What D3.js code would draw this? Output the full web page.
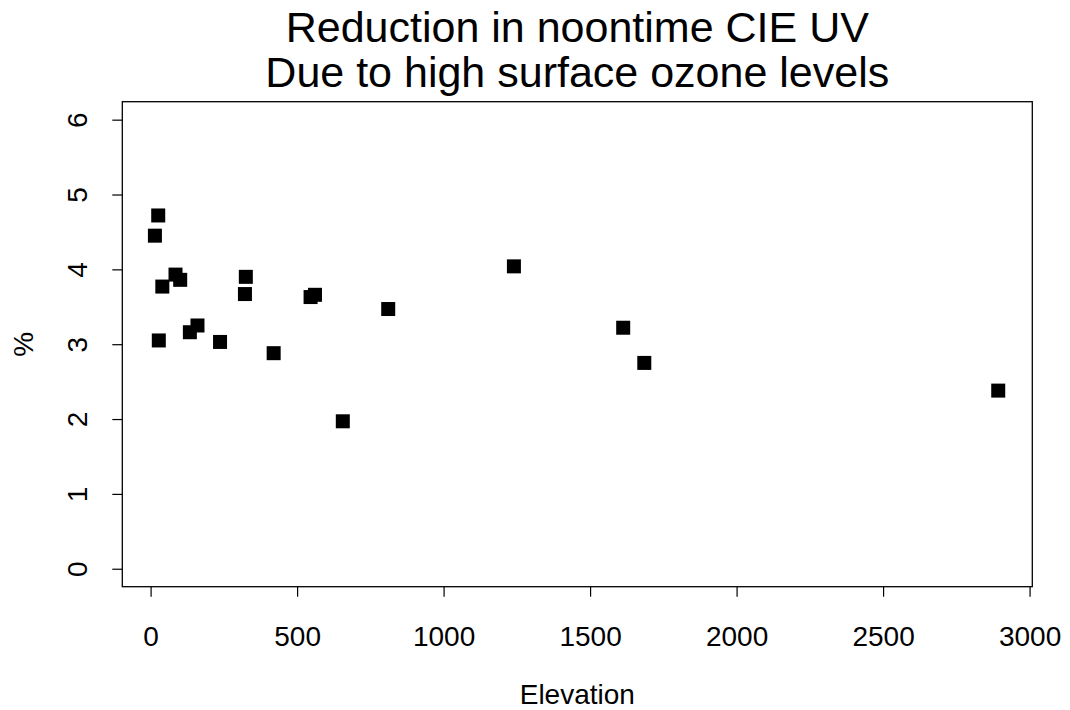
<!DOCTYPE html>
<html>
<head>
<meta charset="utf-8">
<script src="https://cdn.jsdelivr.net/npm/d3@7/dist/d3.min.js"></script>
<style>
  html, body { margin: 0; padding: 0; background: #fff; }
  svg { display: block; font-family: "Liberation Sans", Arial, Helvetica, sans-serif; }
</style>
</head>
<body>
<svg id="chart" width="1070" height="710"></svg>
<script>
// ---- Data ----
const titleLines = ["Reduction in noontime CIE UV", "Due to high surface ozone levels"];
const xLabel = "Elevation";
const yLabel = "%";
const elevation = [14.7, 26, 28, 40, 85, 101, 134, 160, 237, 322, 325, 420, 546, 561, 656, 811, 1240, 1613, 1685, 2893];
const reduction = [4.45, 4.72, 3.05, 3.77, 3.93, 3.86, 3.16, 3.25, 3.03, 3.67, 3.90, 2.88, 3.63, 3.66, 1.97, 3.47, 4.04, 3.22, 2.75, 2.38];
const xTicks = [0, 500, 1000, 1500, 2000, 2500, 3000];
const yTicks = [0, 1, 2, 3, 4, 5, 6];

// ---- Layout ----
const box = { left: 122.3, right: 1032.3, top: 101.7, bottom: 586.7 };
const svg = d3.select("#chart");

const x = d3.scaleLinear().domain([-96.6, 3009.3]).range([box.left, box.right]);
const y = d3.scaleLinear().domain([-0.24, 6.24]).range([box.bottom, box.top]);

const ink = "#000";
const fontSize = 28;

// X axis
const xAxis = d3.axisBottom(x).tickValues(xTicks).tickSize(10).tickPadding(0).tickFormat(d3.format("d"));
const gx = svg.append("g").attr("transform", `translate(0,${box.bottom})`).call(xAxis);
gx.select(".domain").remove();
gx.selectAll(".tick line").attr("stroke", ink).attr("stroke-width", 1.2);
gx.selectAll(".tick text")
  .attr("fill", ink)
  .attr("font-size", fontSize)
  .attr("y", 59)
  .attr("dy", 0)
  .attr("font-family", "Liberation Sans, Arial, sans-serif");

// Y axis
const yAxis = d3.axisLeft(y).tickValues(yTicks).tickSize(10).tickFormat(d3.format("d"));
const gy = svg.append("g").attr("transform", `translate(${box.left},0)`).call(yAxis);
gy.select(".domain").remove();
gy.selectAll(".tick line").attr("stroke", ink).attr("stroke-width", 1.2);
gy.selectAll(".tick text").remove();
gy.selectAll(".tick").append("text")
  .attr("transform", "translate(-35,0) rotate(-90)")
  .attr("text-anchor", "middle")
  .attr("fill", ink)
  .attr("font-size", fontSize)
  .attr("font-family", "Liberation Sans, Arial, sans-serif")
  .text(d => d3.format("d")(d));

// Plot box
svg.append("rect")
  .attr("x", box.left).attr("y", box.top)
  .attr("width", box.right - box.left).attr("height", box.bottom - box.top)
  .attr("fill", "none").attr("stroke", ink).attr("stroke-width", 1.3);

// Points (filled squares)
const sq = 14;
svg.append("g").selectAll("rect")
  .data(elevation.map((e, i) => ({ e, r: reduction[i] })))
  .join("rect")
  .attr("x", d => x(d.e) - sq / 2)
  .attr("y", d => y(d.r) - sq / 2)
  .attr("width", sq).attr("height", sq)
  .attr("fill", ink);

// Title
const cx = (box.left + box.right) / 2;
svg.append("text")
  .attr("x", cx).attr("y", 41.7)
  .attr("text-anchor", "middle").attr("font-size", 43).attr("fill", ink)
  .text(titleLines[0]);
svg.append("text")
  .attr("x", cx).attr("y", 87.3)
  .attr("text-anchor", "middle").attr("font-size", 43).attr("fill", ink)
  .text(titleLines[1]);

// Axis labels
svg.append("text")
  .attr("x", cx).attr("y", 704)
  .attr("text-anchor", "middle").attr("font-size", fontSize).attr("fill", ink)
  .text(xLabel);
svg.append("text")
  .attr("transform", `translate(33,${(box.top + box.bottom) / 2}) rotate(-90)`)
  .attr("text-anchor", "middle").attr("font-size", fontSize).attr("fill", ink)
  .text(yLabel);
</script>
</body>
</html>
